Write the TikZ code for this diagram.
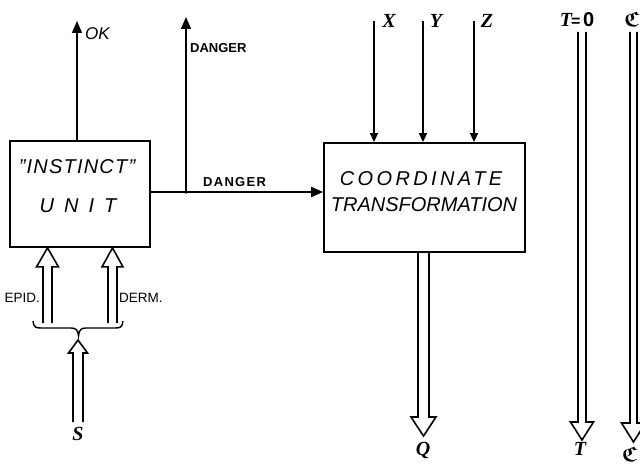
\documentclass[tikz,border=0pt]{standalone}
\usepackage{fontspec}
\setmainfont{Liberation Serif}
\setsansfont{Liberation Sans}
\usepackage{amssymb,bm}
\usetikzlibrary{arrows.meta,calc}
\newcommand\hollowarr[5]{%
  \draw[hollow] ($(#1)+(-#3,0)$) -- ($(#2)+(-#3,0)-(0,#5)$) -- ($(#2)+(-#4,0)-(0,#5)$) -- (#2)
    -- ($(#2)+(#4,0)-(0,#5)$) -- ($(#2)+(#3,0)-(0,#5)$) -- ($(#1)+(#3,0)$);}
\tikzset{
  box/.style={draw, line width=1.8pt, inner sep=0pt},
  sig/.style={line width=1.6pt},
  arr/.style={sig, -{Triangle[length=12pt,width=10pt]}},
  sarr/.style={sig, -{Triangle[length=9pt,width=8pt]}},
  hollow/.style={line width=1.6pt, line join=miter},
  boxtxt/.style={font=\sffamily\itshape\fontsize{20}{20}\selectfont, inner sep=0pt},
  lab/.style={font=\sffamily\bfseries\fontsize{13}{13}\selectfont, inner sep=0pt},
  small/.style={font=\sffamily\fontsize{13.5}{14}\selectfont, inner sep=0pt},
  var/.style={font=\bfseries\itshape\fontsize{20}{20}\selectfont, inner sep=0pt}
}
\begin{document}
\begin{tikzpicture}[x=1pt,y=-1pt]
\useasboundingbox (0,0) rectangle (640,465);
% boxes
\node[box, minimum width=140pt, minimum height=106pt] (inst) at (80,194) {};
\node[box, minimum width=201pt, minimum height=109pt] (coord) at (424.5,197.5) {};
% box texts
\node[boxtxt] (t1) at (77,167) {\addfontfeature{LetterSpace=6}\char34 INSTINCT\char34};
\node[boxtxt] (t2) at (78,206) {\addfontfeature{LetterSpace=50}UNIT};
\node[boxtxt] (t3) at (421,178.5) {\addfontfeature{LetterSpace=17}COORDINATE};
\node[boxtxt] (t4) at (424,205) {TRANSFORMATION};
% OK output
\coordinate (okTop) at (77,21);
\draw[arr] (okTop |- inst.north) -- (okTop);
\node[font=\sffamily\itshape\fontsize{17}{17}\selectfont, inner sep=0pt, anchor=west] (ok) at (85,34) {OK};
% danger path
\coordinate (j) at (186,192);
\coordinate (dTop) at (186,17);
\draw[sig] (j -| inst.east) -- (j);
\draw[arr] (j) -- (j -| coord.west);
\draw[arr] (j) -- (dTop);
\fill (j) circle (1.8pt);
\node[lab, anchor=west] (d1) at (190,48) {DANGER};
\node[lab, anchor=west] (d2) at (203,182) {\addfontfeature{LetterSpace=10}DANGER};
% X Y Z inputs
\coordinate (xs) at (374,21);
\coordinate (ys) at (423,21);
\coordinate (zs) at (474,21);
\draw[sarr] (xs) -- (xs |- coord.north);
\draw[sarr] (ys) -- (ys |- coord.north);
\draw[sarr] (zs) -- (zs |- coord.north);
\node[var] (X) at (389,21) {X};
\node[var] (Y) at (436,21) {Y};
\node[var] (Z) at (487,21) {Z};
% Q output
\coordinate (qs) at (423.5,252);
\coordinate (qt) at (423.5,436);
\hollowarr{qs}{qt}{5.5}{12.5}{19}
\node[var] (Q) at (423,450) {Q};
% T and C
\coordinate (ts) at (582,32);
\coordinate (tt) at (582,440);
\hollowarr{ts}{tt}{4}{11.5}{18}
\node[inner sep=0pt] (T0) at (577,20) {\fontsize{20}{20}\selectfont\bfseries\itshape T\hspace{-1pt}\textsf{\upshape\fontsize{16}{16}\selectfont =\,\fontsize{20}{20}\selectfont 0}};
\node[var] (T) at (580,449) {T};
\coordinate (cs) at (633.5,32);
\coordinate (ct) at (633.5,442);
\hollowarr{cs}{ct}{3.5}{12}{19}
\node[inner sep=0pt, anchor=east] (C0) at (639.5,19) {\fontsize{21}{21}\selectfont$\bm{\mathfrak{C}}$};
\node[inner sep=0pt] (C1) at (629.5,454) {\fontsize{21}{21}\selectfont$\bm{\mathfrak{C}}$};
% inputs to instinct unit
\coordinate (es) at (47.5,323);
\coordinate (et) at (es |- inst.south);
\coordinate (ds) at (112.5,323);
\coordinate (dt) at (ds |- inst.south);
\hollowarr{es}{et}{4.5}{11}{-19}
\hollowarr{ds}{dt}{4.5}{10.5}{-19}
\node[small, anchor=east] (ep) at (40,298) {EPID.};
\node[small, anchor=west] (de) at (119,298) {DERM.};
% brace
\coordinate (bl) at (33,321);
\coordinate (br) at (123,321);
\coordinate (bt) at (78.5,336);
\draw[line width=1.4pt] (bl) .. controls (34,328) and (36,328) .. (42,328) -- (71,328)
  .. controls (76,328) and (78,330) .. (bt) .. controls (79,330) and (81,328) .. (86,328)
  -- (114,328) .. controls (120,328) and (122,328) .. (br);
% S input
\coordinate (ss) at (78,422);
\coordinate (st) at (78,340);
\hollowarr{ss}{st}{5}{9.5}{-13}
\node[var] (S) at (78,434) {S};
\end{tikzpicture}
\end{document}
